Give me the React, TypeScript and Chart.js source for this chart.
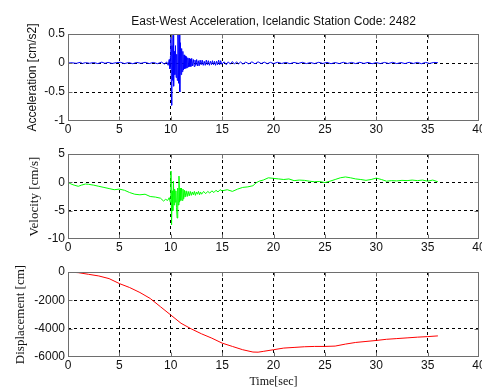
import React, { useEffect, useRef } from 'react';
import { Chart, registerables } from 'chart.js';

Chart.register(...registerables);

// ---------- data ----------
const TIME_TICKS = [0, 5, 10, 15, 20, 25, 30, 35, 40];
const ACC_TICKS = [-1, -0.5, 0, 0.5];
const VEL_TICKS = [-10, -5, 0, 5];
const DISP_TICKS = [-6000, -4000, -2000, 0];

const TITLE = 'East-West Acceleration, Icelandic Station Code: 2482';
const ACC_LABEL = 'Acceleration [cm/s2]';
const VEL_LABEL = 'Velocity [cm/s]';
const DISP_LABEL = 'Displacement [cm]';
const TIME_LABEL = 'Time[sec]';

const ACC_T = [
  0, 0.4, 0.8, 1.2, 1.4, 1.7, 2.1, 2.5, 2.9, 3.3, 3.6, 3.9, 4.3, 4.7, 5.1, 5.5, 5.9, 6.3, 6.7, 7.1,
  7.5, 7.9, 8.3, 8.7, 9.1, 9.4, 9.6, 9.75, 9.85, 9.92, 9.97,
  10.02, 10.07, 10.12, 10.17, 10.22, 10.28, 10.34, 10.4, 10.46, 10.52, 10.58, 10.64, 10.7, 10.76,
  10.82, 10.88, 10.94, 11.0, 11.06, 11.12, 11.18, 11.24, 11.3, 11.36,
  11.42, 11.48, 11.54, 11.6, 11.66, 11.72, 11.78, 11.84, 11.9, 11.96, 12.04,
  12.12, 12.2, 12.28, 12.36, 12.44, 12.52, 12.6, 12.68, 12.76, 12.86, 12.96, 13.06, 13.16, 13.26, 13.36,
  13.46, 13.56, 13.66, 13.76, 13.86, 13.96, 14.06, 14.16, 14.26, 14.36, 14.46, 14.56, 14.66, 14.76, 14.86, 14.96,
  15.2, 15.4, 15.6, 15.8, 16.0, 16.2, 16.4, 16.6, 16.8, 17.0, 17.3, 17.6, 17.9, 18.2, 18.5, 18.8,
  19.1, 19.4, 19.7, 20.0, 20.4, 20.8, 21.2, 21.6, 22.0, 22.4, 22.8, 23.2, 23.6, 24.0, 24.4, 24.8,
  25.2, 25.6, 26.0, 26.4, 26.8, 27.2, 27.6, 28.0, 28.4, 28.8, 29.2, 29.6, 30.0, 30.4, 30.8, 31.2,
  31.6, 32.0, 32.4, 32.8, 33.2, 33.6, 34.0, 34.4, 34.8, 35.2, 35.6, 36.0,
];
const ACC_V = [
  0, 0.004, -0.006, 0.012, -0.008, 0.006, -0.005, 0.008, -0.01, 0.015, -0.006, 0.01, -0.008, 0.006,
  0.012, -0.01, 0.008, -0.012, 0.01, -0.006, 0.012, -0.01, 0.01, -0.012, 0.015, -0.02, 0.02, -0.04,
  0.06, -0.1, 0.12,
  0.45, -0.73, 0.3, -0.3, 0.48, -0.4, 0.2, -0.2, 0.3, -0.25, 0.15, -0.3, 0.5, -0.35,
  0.5, -0.5, 0.35, -0.2, 0.25, -0.15, 0.2, -0.12, 0.14, -0.1,
  0.12, -0.09, 0.1, -0.08, 0.09, -0.07, 0.08, -0.06, 0.07, -0.06, 0.08,
  -0.05, 0.06, -0.06, 0.05, -0.04, 0.06, -0.05, 0.04, -0.05, 0.05, -0.03, 0.05, -0.04, 0.03, -0.04,
  0.05, -0.03, 0.04, -0.04, 0.03, -0.03, 0.04, -0.03, 0.03, -0.04, 0.03, -0.03, 0.05, -0.03, 0.04, -0.02,
  0.02, -0.03, 0.02, -0.02, 0.025, -0.02, 0.02, -0.015, 0.02, -0.02, 0.015, -0.015, 0.02, -0.015, 0.02, -0.01,
  0.015, -0.012, 0.012, -0.01, 0.012, -0.008, 0.01, -0.012, 0.01, -0.008, 0.012, -0.01, 0.008, -0.01, 0.012, -0.008,
  0.01, -0.012, 0.008, -0.01, 0.012, -0.008, 0.01, -0.01, 0.012, -0.008, 0.01, -0.012, 0.008, -0.01, 0.01, -0.008,
  0.012, -0.01, 0.008, -0.01, 0.012, -0.008, 0.01, -0.012, 0.01, -0.008, 0.01, 0.005,
];

const VEL_T = [
  0, 0.3, 0.6, 1.0, 1.3, 1.7, 2.0, 2.5, 3.0, 3.5, 4.0, 4.5, 5.0, 5.5, 6.0, 6.5, 7.0, 7.5, 8.0, 8.5,
  9.0, 9.3, 9.5, 9.7, 9.85, 9.95, 10.02, 10.08, 10.14, 10.2, 10.26, 10.32, 10.38, 10.44, 10.5, 10.56,
  10.62, 10.68, 10.74, 10.8, 10.86, 10.92, 10.98, 11.05, 11.12, 11.19, 11.26, 11.33, 11.4, 11.5, 11.6,
  11.7, 11.8, 11.9, 12.0, 12.1, 12.2, 12.3, 12.4, 12.5, 12.6, 12.7, 12.8, 12.9, 13.0, 13.2, 13.4, 13.6,
  13.8, 14.0, 14.2, 14.4, 14.6, 14.8, 15.0, 15.5, 16.0, 16.5, 17.0, 17.5, 18.0, 18.3, 18.6, 19.0,
  19.5, 20.0, 20.5, 21.0, 21.5, 22.0, 22.5, 23.0, 23.5, 24.0, 24.5, 25.0, 25.5, 26.0, 26.5, 27.0,
  27.5, 28.0, 28.5, 29.0, 29.5, 30.0, 30.5, 31.0, 31.5, 32.0, 32.5, 33.0, 33.5, 34.0, 34.5, 35.0,
  35.5, 36.0,
];
const VEL_V = [
  0, -0.3, -0.5, -0.7, -0.5, -0.3, -0.35, -0.5, -0.7, -0.9, -1.1, -1.3, -1.2, -1.4, -1.8, -2.1, -2.2,
  -2.1, -2.5, -2.6, -2.8, -3.3, -3.0, -3.2, -2.7, -3.5, 2.0, -7.5, -1.5, -5.0, 0.2, -4.0, -1.2, -3.5,
  -1.5, -4.5, -6.3, -1.0, -4.0, 1.1, -3.5, -1.0, -3.2, -1.0, -3.2, -1.2, -2.9, -1.4, -2.6, -1.5, -2.5,
  -1.6, -2.4, -1.6, -2.3, -1.7, -2.2, -1.6, -2.3, -1.7, -2.1, -1.6, -2.2, -1.7, -2.1, -1.6, -2.0, -1.6,
  -1.9, -1.5, -1.8, -1.4, -1.7, -1.3, -1.5, -1.3, -1.6, -1.2, -0.9, -0.8, -0.6, -0.1, 0.2, 0.4,
  0.8, 0.7, 0.6, 0.5, 0.6, 0.3, 0.4, 0.35, 0.2, 0.1, 0.15, -0.05, 0.2, 0.5, 0.8, 0.95,
  0.8, 0.6, 0.5, 0.35, 0.5, 0.75, 0.5, 0.2, 0.3, 0.25, 0.35, 0.3, 0.4, 0.3, 0.4, 0.2,
  0.4, 0.1,
];

const DISP_T = [
  0, 1, 2, 3, 4, 5, 6, 7, 8, 9, 10, 11, 12, 13, 14, 15, 16, 17, 18, 18.5, 19, 20, 21, 22, 23, 24,
  25, 26, 27, 28, 29, 30, 31, 32, 33, 34, 35, 36,
];
const DISP_V = [
  0, -47, -163, -280, -467, -817, -1097, -1448, -1868, -2452, -3035, -3619, -4016, -4366, -4670,
  -5020, -5254, -5487, -5650, -5660, -5604, -5487, -5370, -5324, -5277, -5254, -5254, -5230, -5090,
  -4973, -4903, -4833, -4750, -4700, -4650, -4600, -4560, -4510,
];

// ---------- styling ----------
const CANVAS_W = 500;
const CANVAS_H = 389;
const BOX_COLOR = '#6e6e6e';
const TICK_COLOR = '#111';
const SANS = 'Liberation Sans';
const SERIF = 'Liberation Serif';

const boxPlugin = {
  id: 'matlabBox',
  afterDraw(chart: any) {
    const { ctx, chartArea: a, scales } = chart;
    const l = Math.round(a.left) + 0.5;
    const r = Math.round(a.right) - 0.5;
    const t = Math.round(a.top) + 0.5;
    const b = Math.round(a.bottom) - 0.5;
    ctx.save();
    ctx.strokeStyle = BOX_COLOR;
    ctx.lineWidth = 1;
    ctx.setLineDash([]);
    ctx.strokeRect(l, t, r - l, b - t);
    const tl = 4;
    ctx.beginPath();
    scales.x.ticks.forEach((tk: any) => {
      const px = Math.round(scales.x.getPixelForValue(tk.value)) + 0.5;
      if (px <= l + 1 || px >= r - 1) return;
      ctx.moveTo(px, b); ctx.lineTo(px, b - tl);
      ctx.moveTo(px, t); ctx.lineTo(px, t + tl);
    });
    scales.y.ticks.forEach((tk: any) => {
      const py = Math.round(scales.y.getPixelForValue(tk.value)) + 0.5;
      if (py <= t + 1 || py >= b - 1) return;
      ctx.moveTo(l, py); ctx.lineTo(l + tl, py);
      ctx.moveTo(r, py); ctx.lineTo(r - tl, py);
    });
    ctx.stroke();
    ctx.restore();
  },
};

interface PanelCfg {
  t: number[];
  v: number[];
  color: string;
  yTicks: number[];
  yLabel: string;
  yLabelFont: any;
  padLeft: number;
  top: number;
  bottom: number;
  xAxisH: number;
  title?: string;
  xLabel?: string;
}

function makeConfig(p: PanelCfg): any {
  const chartRight = 479;
  const yMin = p.yTicks[0];
  const yMax = p.yTicks[p.yTicks.length - 1];
  const gridColor = (min: number, max: number) => (ctx: any) => {
    const v = ctx.tick ? ctx.tick.value : null;
    return v === min || v === max ? 'rgba(0,0,0,0)' : '#000';
  };
  const titleH = p.title ? 34 : 0;
  return {
    type: 'line',
    data: {
      datasets: [
        {
          data: p.t.map((x, i) => ({ x, y: p.v[i] })),
          borderColor: p.color,
          borderWidth: 1,
          pointRadius: 0,
          fill: false,
          tension: 0,
        },
      ],
    },
    options: {
      animation: false,
      responsive: false,
      devicePixelRatio: 1,
      events: [],
      layout: {
        padding: {
          left: p.padLeft,
          right: CANVAS_W - chartRight,
          top: p.top - titleH,
          bottom: CANVAS_H - p.bottom - p.xAxisH,
        },
      },
      plugins: {
        legend: { display: false },
        tooltip: { enabled: false },
        title: p.title
          ? {
              display: true,
              text: p.title,
              fullSize: false,
              color: '#111',
              font: { family: SANS, size: 12, weight: 'normal', lineHeight: 1.25 },
              padding: { top: 14, bottom: 5 },
            }
          : { display: false },
      },
      scales: {
        x: {
          type: 'linear',
          min: 0,
          max: 40,
          afterBuildTicks: (s: any) => {
            s.ticks = TIME_TICKS.map((value) => ({ value }));
          },
          afterFit: (s: any) => {
            s.height = p.xAxisH;
          },
          grid: { color: gridColor(0, 40), lineWidth: 1, drawTicks: false },
          border: { display: false, dash: [3, 3] },
          ticks: {
            color: TICK_COLOR,
            font: { family: SANS, size: 12 },
            padding: 1,
            maxRotation: 0,
            autoSkip: false,
            callback: (v: any) => String(v),
          },
          title: p.xLabel
            ? {
                display: true,
                text: p.xLabel,
                color: '#111',
                font: { family: SERIF, size: 12 },
                padding: { top: 0, bottom: 0 },
              }
            : { display: false },
        },
        y: {
          type: 'linear',
          min: yMin,
          max: yMax,
          afterBuildTicks: (s: any) => {
            s.ticks = p.yTicks.map((value) => ({ value }));
          },
          afterFit: (s: any) => {
            s.width = 68 - p.padLeft;
          },
          grid: { color: gridColor(yMin, yMax), lineWidth: 1, drawTicks: false },
          border: { display: false, dash: [3, 3] },
          ticks: {
            color: TICK_COLOR,
            font: { family: SANS, size: 12 },
            padding: 3,
            autoSkip: false,
            callback: (v: any) => String(v),
          },
          title: {
            display: true,
            text: p.yLabel,
            color: '#111',
            font: p.yLabelFont,
            padding: { top: 0, bottom: 0 },
          },
        },
      },
    },
    plugins: [boxPlugin],
  };
}

const PANELS: PanelCfg[] = [
  {
    t: ACC_T,
    v: ACC_V,
    color: '#0000ff',
    yTicks: ACC_TICKS,
    yLabel: ACC_LABEL,
    yLabelFont: { family: SANS, size: 12 },
    padLeft: 25,
    top: 34,
    bottom: 121,
    xAxisH: 20,
    title: TITLE,
  },
  {
    t: VEL_T,
    v: VEL_V,
    color: '#00ff00',
    yTicks: VEL_TICKS,
    yLabel: VEL_LABEL,
    yLabelFont: { family: SERIF, size: 13 },
    padLeft: 27,
    top: 154,
    bottom: 239,
    xAxisH: 20,
  },
  {
    t: DISP_T,
    v: DISP_V,
    color: '#ff0000',
    yTicks: DISP_TICKS,
    yLabel: DISP_LABEL,
    yLabelFont: { family: SERIF, size: 13 },
    padLeft: 13,
    top: 272,
    bottom: 357,
    xAxisH: 32,
    xLabel: TIME_LABEL,
  },
];

function Panel({ cfg }: { cfg: PanelCfg }) {
  const ref = useRef<HTMLCanvasElement | null>(null);
  useEffect(() => {
    if (!ref.current) return;
    const chart = new Chart(ref.current, makeConfig(cfg));
    return () => chart.destroy();
  }, [cfg]);
  return (
    <canvas
      ref={ref}
      width={CANVAS_W}
      height={CANVAS_H}
      style={{ position: 'absolute', left: 0, top: 0, width: CANVAS_W, height: CANVAS_H }}
    />
  );
}

export default function App() {
  useEffect(() => {
    document.body.style.margin = '0';
    document.body.style.background = '#fff';
  }, []);
  return (
    <div style={{ position: 'relative', width: 482, height: 389, overflow: 'hidden', background: '#fff' }}>
      {PANELS.map((p, i) => (
        <Panel key={i} cfg={p} />
      ))}
    </div>
  );
}
